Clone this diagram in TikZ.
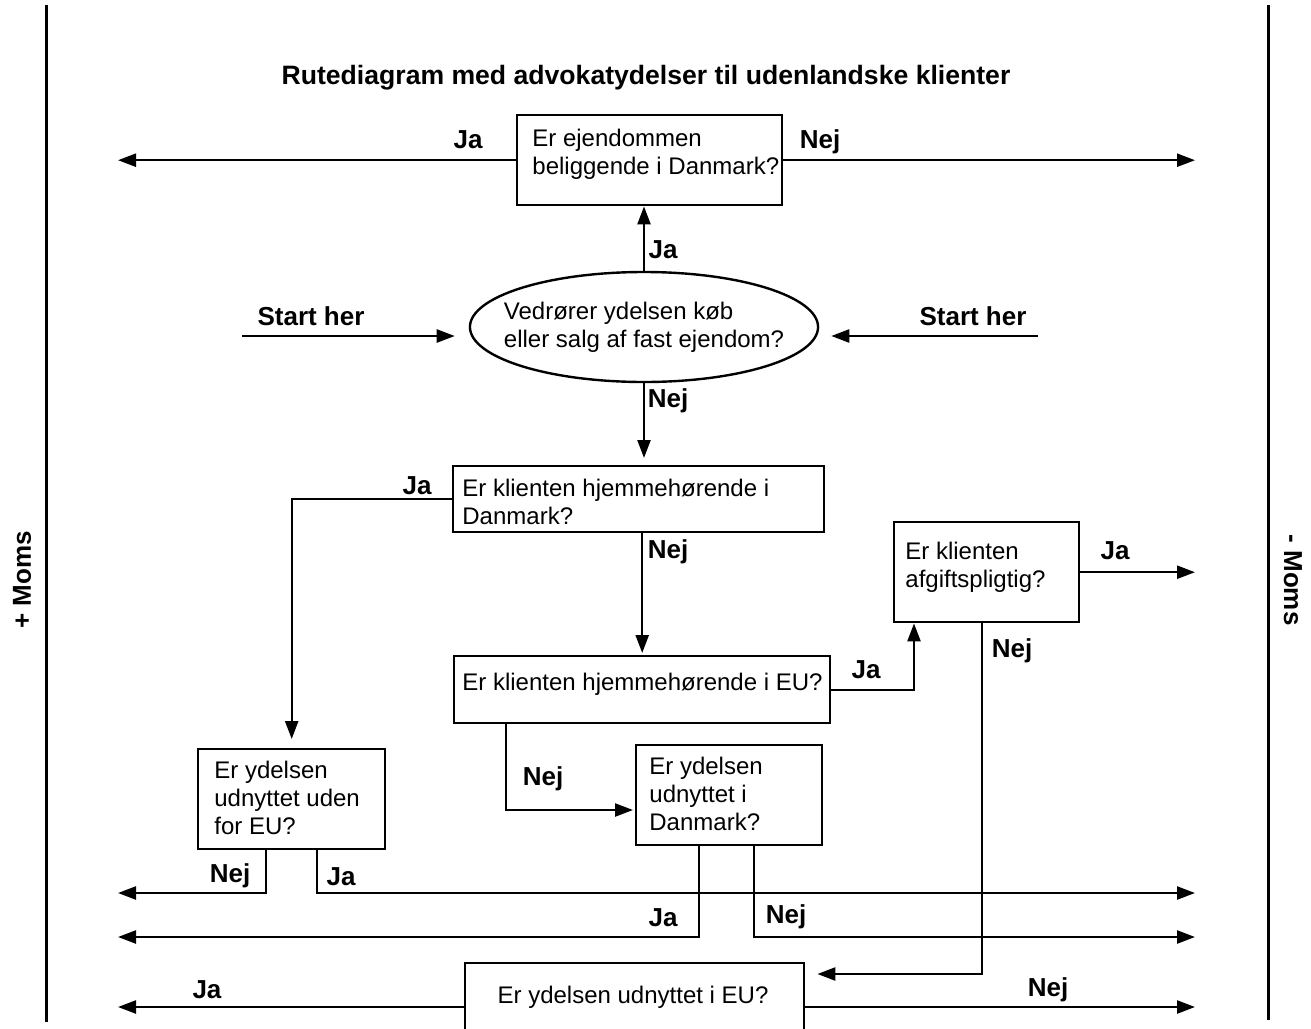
\documentclass[tikz,border=0pt]{standalone}
\usepackage{fontspec}
\setmainfont{Liberation Sans}
\usetikzlibrary{arrows.meta,shapes.geometric,calc}

\tikzset{
  flow/.style={line width=1.2pt, -{Triangle[length=9pt,width=6.5pt]}},
  qbox/.style={draw, line width=1.2pt, anchor=north west, inner sep=0pt},
  qtext/.style={anchor=north west, inner sep=0pt, align=left, font=\fontsize{12}{13.8}\selectfont},
  lbl/.style={font=\bfseries\fontsize{13}{15}\selectfont, inner sep=0pt},
}

\begin{document}
\begin{tikzpicture}[x=0.5pt,y=-0.5pt]
\useasboundingbox (0,0) rectangle (1311,1028);
\clip (0,0) rectangle (1311,1028);

% side bars
\draw[line width=1.5pt] (46,5) -- (46,1022);
\draw[line width=1.5pt] (1268,5) -- (1268,1020);
\node[lbl, rotate=90] (plusmoms) at (22,580) {+ Moms};
\node[lbl, rotate=-90] (minusmoms) at (1293,580) {- Moms};

\node[lbl, font=\bfseries\fontsize{13.3}{15}\selectfont] (title) at (646,78)
  {Rutediagram med advokatydelser til udenlandske klienter};

% arrow ends and rows
\coordinate (lend) at (118,0);
\coordinate (rend) at (1195,0);
\coordinate (row1) at (0,893);
\coordinate (row2) at (0,937);
\coordinate (row3) at (0,1007);
\coordinate (startl) at (242,336);
\coordinate (startr) at (1038,336);

% questions
\node[draw, ellipse, line width=1.2pt, minimum width=174pt, minimum height=55pt,
  inner xsep=-8.5pt, inner ysep=0pt, align=left, font=\fontsize{12}{13.8}\selectfont] (ejd) at (644,327)
  {Vedrører ydelsen køb\\eller salg af fast ejendom?};
\node[qbox, minimum width=132.5pt, minimum height=45pt] (b1) at (516,114) {};
\node[qbox, minimum width=185.5pt, minimum height=33pt] (b2) at (452,465) {};
\node[qbox, minimum width=93.5pt, minimum height=50pt] (b3) at (197,748) {};
\node[qbox, minimum width=188pt, minimum height=33.5pt] (b4) at (453,655) {};
\node[qbox, minimum width=92.5pt, minimum height=50pt] (b5) at (893,521) {};
\node[qbox, minimum width=93pt, minimum height=50pt] (b6) at (635,744) {};
\node[qbox, minimum width=169.5pt, minimum height=46pt] (b7) at (464,962) {};

\node[qtext] (t1) at ($(b1.north west)+(16,15)$) {Er ejendommen\\beliggende i Danmark?};
\node[qtext] (t2) at ($(b2.north west)+(10,14)$) {Er klienten hjemmehørende i\\Danmark?};
\node[qtext] (t3) at ($(b3.north west)+(17,13)$) {Er ydelsen\\udnyttet uden\\for EU?};
\node[qtext] (t4) at ($(b4.north west)+(9,18)$) {Er klienten hjemmehørende i EU?};
\node[qtext] (t5) at ($(b5.north west)+(12,21)$) {Er klienten\\afgiftspligtig?};
\node[qtext] (t6) at ($(b6.north west)+(14,13)$) {Er ydelsen\\udnyttet i\\Danmark?};
\node[qtext, anchor=center] (t7) at (633,997) {Er ydelsen udnyttet i EU?};

% connectors
\draw[flow, shorten >=7pt] (startl) -- (startl -| ejd.west);
\draw[flow, shorten >=6pt] (startr) -- (startr -| ejd.east);
\draw[flow] (ejd.north) -- (ejd.north |- b1.south);
\draw[flow] (b1.west) -- (b1.west -| lend);
\draw[flow] (b1.east) -- (b1.east -| rend);
\draw[flow, shorten >=3.5pt] (ejd.south) -- (ejd.south |- b2.north);
\draw[flow, shorten >=4.5pt] (b2.west) -| (b3.north);
\draw[flow, shorten >=1pt] (b4.north |- b2.south) -- (b4.north);
\draw[flow] (b4.east) -| ($(b5.south west)+(21,0)$);
\draw[flow] (b5.east) -- (b5.east -| rend);
\draw[flow] ($(b5.south west)+(89,0)$) |- ($(b7.north east)+(12,12)$);
\draw[flow, shorten >=1pt] ($(b4.south west)+(53,0)$) |- ($(b6.north west)+(0,66)$);
\draw[flow] ($(b3.south west)+(69,0)$) |- (lend |- row1);
\draw[flow] ($(b3.south west)+(120,0)$) |- (rend |- row1);
\draw[flow] ($(b6.south west)+(64,0)$) |- (lend |- row2);
\draw[flow] ($(b6.south west)+(119,0)$) |- (rend |- row2);
\draw[flow] (b7.west |- row3) -- (lend |- row3);
\draw[flow] (b7.east |- row3) -- (rend |- row3);

% labels
\node[lbl] (startltxt) at (311,316) {Start her};
\node[lbl] (startrtxt) at (973,316) {Start her};
\node[lbl] (ja1) at (468,140) {Ja};
\node[lbl] (nej1) at (820,142) {Nej};
\node[lbl] (ja2) at (663,250) {Ja};
\node[lbl] (nej2) at (668,401) {Nej};
\node[lbl] (ja3) at (417,486) {Ja};
\node[lbl] (nej3) at (668,552) {Nej};
\node[lbl] (ja4) at (866,670) {Ja};
\node[lbl] (ja5) at (1115,551) {Ja};
\node[lbl] (nej5) at (1012,651) {Nej};
\node[lbl] (nej4) at (543,779) {Nej};
\node[lbl] (nej6) at (230,876) {Nej};
\node[lbl] (ja6) at (341,877) {Ja};
\node[lbl] (ja7) at (663,918) {Ja};
\node[lbl] (nej7) at (786,917) {Nej};
\node[lbl] (ja8) at (207,990) {Ja};
\node[lbl] (nej8) at (1048,990) {Nej};
\end{tikzpicture}
\end{document}
